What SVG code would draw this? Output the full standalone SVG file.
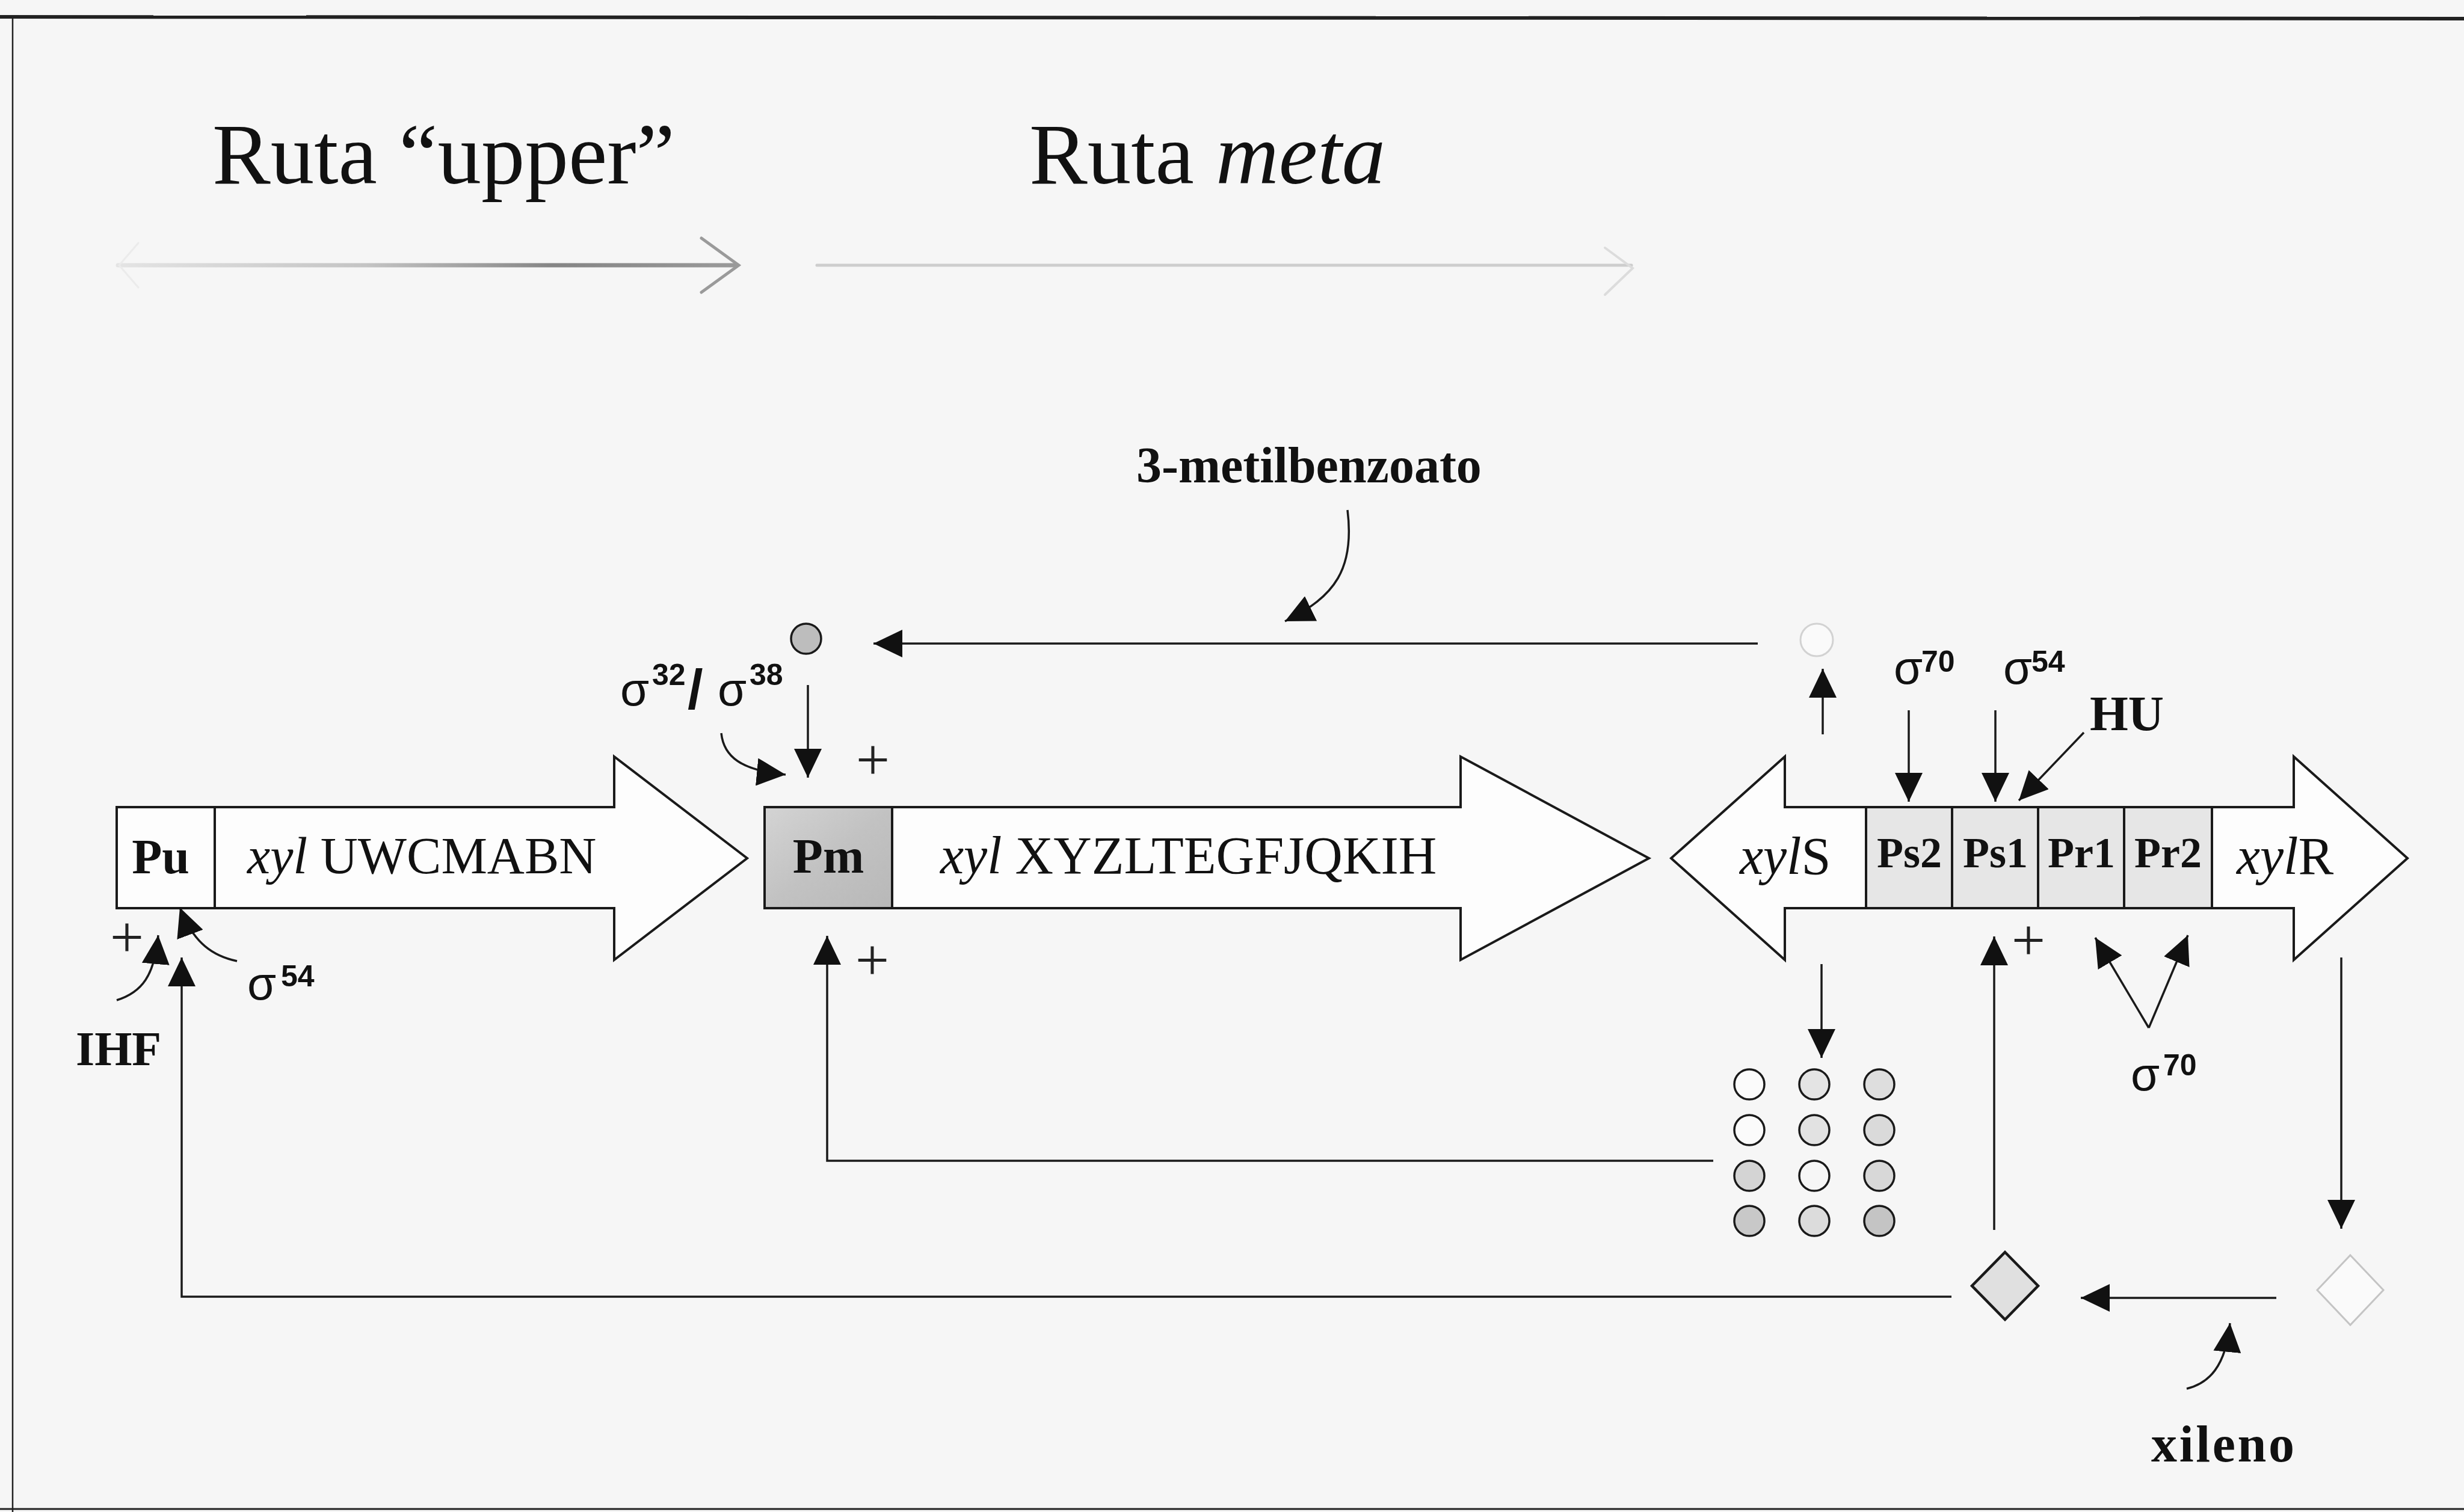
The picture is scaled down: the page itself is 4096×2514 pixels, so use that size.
<svg xmlns="http://www.w3.org/2000/svg" width="4096" height="2514" viewBox="0 0 4096 2514">
<defs>
<marker id="ah" markerUnits="userSpaceOnUse" markerWidth="48" markerHeight="46" viewBox="0 0 48 46" refX="48" refY="23" orient="auto"><path d="M0,0 L48,23 L0,46 Z" fill="#111"/></marker>
<linearGradient id="fade1" x1="196" y1="0" x2="1228" y2="0" gradientUnits="userSpaceOnUse"><stop offset="0" stop-color="#e4e4e4"/><stop offset="0.4" stop-color="#c4c4c4"/><stop offset="0.7" stop-color="#858585"/><stop offset="1" stop-color="#9a9a9a"/></linearGradient>
<linearGradient id="pmfill" x1="0" y1="0" x2="1" y2="1"><stop offset="0" stop-color="#d4d4d4"/><stop offset="0.5" stop-color="#c2c2c2"/><stop offset="1" stop-color="#b8b8b8"/></linearGradient>
</defs>
<style>
.ln{fill:none;stroke:#1a1a1a;stroke-width:3.5}
.arr{fill:none;stroke:#1a1a1a;stroke-width:3.5;marker-end:url(#ah)}
.gene{fill:#fdfdfd;stroke:#1a1a1a;stroke-width:4}
.prom{fill:#e6e6e6;stroke:#1a1a1a;stroke-width:4}
.serif{font-family:"Liberation Serif","Times New Roman",serif;fill:#111}
.b{font-weight:bold}
.sig{font-family:"Liberation Sans",Arial,sans-serif;fill:#111}
.plus{font-family:"Liberation Serif",serif;font-size:100px;fill:#222;text-anchor:middle}
.dot{stroke:#1a1a1a;stroke-width:3.5}
</style>
<rect x="0" y="0" width="4096" height="2514" fill="#f6f6f6"/>
<g id="frame" fill="none" stroke="#222">
<line x1="0" y1="28" x2="4096" y2="31" stroke-width="6"/>
<line x1="21" y1="28" x2="21" y2="2514" stroke-width="2.5"/>
<line x1="0" y1="2509" x2="4096" y2="2509" stroke-width="3"/>
</g>
<g id="titles">
<text class="serif" x="353" y="305" font-size="145">Ruta “upper”</text>
<text class="serif" x="1711" y="305" font-size="145">Ruta <tspan font-style="italic">meta</tspan></text>
</g>
<g id="pathway-arrows" fill="none" stroke-linecap="round">
<line x1="196" y1="441" x2="1222" y2="441" stroke="url(#fade1)" stroke-width="7"/>
<polyline points="1166,396 1228,441 1166,486" stroke="#9a9a9a" stroke-width="5"/>
<polyline points="230,404 198,441 230,478" stroke="#ebebeb" stroke-width="3"/>
<line x1="1358" y1="441" x2="2712" y2="441" stroke="#cdcdcd" stroke-width="5"/>
<polyline points="2668,412 2714,446 2668,490" stroke="#dcdcdc" stroke-width="4"/>
</g>
<g id="operon-upper">
<path class="gene" d="M194,1342 L1021,1342 L1021,1258 L1242,1427 L1021,1596 L1021,1510 L194,1510 Z"/>
<rect class="gene" x="194" y="1342" width="163" height="168" fill="#f0f0f0"/>
<text class="serif b" x="267" y="1452" font-size="82" text-anchor="middle">Pu</text>
<text class="serif" x="411" y="1452" font-size="86"><tspan font-style="italic">xyl</tspan> UWCMABN</text>
</g>
<g id="operon-meta">
<path class="gene" d="M1271,1342 L2428,1342 L2428,1258 L2741,1427 L2428,1596 L2428,1510 L1271,1510 Z"/>
<rect x="1271" y="1342" width="212" height="168" fill="url(#pmfill)" stroke="#1a1a1a" stroke-width="4"/>
<text class="serif b" x="1377" y="1451" font-size="82" text-anchor="middle">Pm</text>
<text class="serif" x="1563" y="1452" font-size="88"><tspan font-style="italic">xyl</tspan> XYZLTEGFJQKIH</text>
</g>
<g id="regulators">
<path class="gene" d="M2778,1427 L2967,1258 L2967,1342 L3813,1342 L3813,1258 L4002,1427 L3813,1596 L3813,1510 L2967,1510 L2967,1596 Z"/>
<rect class="prom" x="3102" y="1342" width="143" height="168"/>
<rect class="prom" x="3245" y="1342" width="143" height="168"/>
<rect class="prom" x="3388" y="1342" width="143" height="168"/>
<rect class="prom" x="3531" y="1342" width="146" height="168"/>
<text class="serif" x="2892" y="1453" font-size="88"><tspan font-style="italic">xyl</tspan>S</text>
<text class="serif b" x="3174" y="1442" font-size="72" text-anchor="middle">Ps2</text>
<text class="serif b" x="3317" y="1442" font-size="72" text-anchor="middle">Ps1</text>
<text class="serif b" x="3460" y="1442" font-size="72" text-anchor="middle">Pr1</text>
<text class="serif b" x="3604" y="1442" font-size="72" text-anchor="middle">Pr2</text>
<text class="serif" x="3718" y="1453" font-size="88"><tspan font-style="italic">xyl</tspan>R</text>
</g>
<g id="effector-3mb">
<circle class="dot" cx="1340" cy="1062" r="25" fill="#bdbdbd"/>
<circle cx="3020" cy="1064" r="27" fill="#fafafa" stroke="#d2d2d2" stroke-width="3"/>
<text class="serif b" x="1889" y="802" font-size="84">3-metilbenzoato</text>
</g>
<g id="xyls-pool">
<circle class="dot" cx="2908" cy="1803" r="25" fill="#fbfbfb"/>
<circle class="dot" cx="3016" cy="1803" r="25" fill="#e4e4e4"/>
<circle class="dot" cx="3124" cy="1803" r="25" fill="#dedede"/>
<circle class="dot" cx="2908" cy="1879" r="25" fill="#fbfbfb"/>
<circle class="dot" cx="3016" cy="1879" r="25" fill="#e2e2e2"/>
<circle class="dot" cx="3124" cy="1879" r="25" fill="#dadada"/>
<circle class="dot" cx="2908" cy="1955" r="25" fill="#d4d4d4"/>
<circle class="dot" cx="3016" cy="1955" r="25" fill="#f6f6f6"/>
<circle class="dot" cx="3124" cy="1955" r="25" fill="#d8d8d8"/>
<circle class="dot" cx="2908" cy="2030" r="25" fill="#c8c8c8"/>
<circle class="dot" cx="3016" cy="2030" r="25" fill="#dcdcdc"/>
<circle class="dot" cx="3124" cy="2030" r="25" fill="#c4c4c4"/>
</g>
<g id="xylr-effector">
<path d="M3333,2082 L3388,2138 L3333,2194 L3278,2138 Z" fill="#e0e0e0" stroke="#1a1a1a" stroke-width="4.5"/>
<path d="M3907,2087 L3962,2145 L3907,2203 L3852,2145 Z" fill="#fafafa" stroke="#c4c4c4" stroke-width="3"/>
<text class="serif b" x="3576" y="2430" font-size="86" textLength="238">xileno</text>
</g>
<g id="factors">
<text class="sig" x="1031" y="1173" font-size="78">σ<tspan x="1084" y="1139" font-size="50" font-weight="bold">32</tspan><tspan x="1143" y="1178" font-size="92" font-weight="bold">/</tspan><tspan x="1193" y="1173">σ</tspan><tspan x="1246" y="1139" font-size="50" font-weight="bold">38</tspan></text>
<text class="sig" x="411" y="1662" font-size="78">σ<tspan x="467" y="1640" font-size="50" font-weight="bold">54</tspan></text>
<text class="sig" x="3148" y="1137" font-size="78">σ<tspan x="3194" y="1117" font-size="50" font-weight="bold">70</tspan></text>
<text class="sig" x="3330" y="1137" font-size="78">σ<tspan x="3377" y="1117" font-size="50" font-weight="bold">54</tspan></text>
<text class="sig" x="3542" y="1813" font-size="78">σ<tspan x="3596" y="1788" font-size="50" font-weight="bold">70</tspan></text>
<text class="serif b" x="3474" y="1214" font-size="82">HU</text>
<text class="serif b" x="126" y="1771" font-size="80">IHF</text>
<text class="plus" x="211" y="1592">+</text>
<text class="plus" x="1451" y="1297">+</text>
<text class="plus" x="1450" y="1630">+</text>
<text class="plus" x="3372" y="1597">+</text>
</g>
<g id="connectors">
<path class="arr" d="M2922,1070 L1452,1070"/>
<path class="arr" d="M2240,848 C2252,945 2220,992 2136,1033"/>
<path class="arr" d="M1343,1139 L1343,1293"/>
<path class="arr" d="M1199,1219 C1203,1258 1232,1281 1306,1288"/>
<path class="arr" d="M3244,2156 L302,2156 L302,1592"/>
<path class="arr" d="M394,1598 C356,1590 322,1570 299,1509"/>
<path class="arr" d="M194,1663 C236,1650 257,1622 263,1555"/>
<path class="arr" d="M2848,1930 L1375,1930 L1375,1556"/>
<path class="arr" d="M3030,1221 L3030,1112"/>
<path class="arr" d="M3028,1603 L3028,1759"/>
<path class="arr" d="M3173,1181 L3173,1333"/>
<path class="arr" d="M3317,1181 L3317,1333"/>
<path class="arr" d="M3464,1218 L3356,1331"/>
<path class="arr" d="M3315,2045 L3315,1557"/>
<path class="arr" d="M3572,1709 L3483,1559"/>
<path class="arr" d="M3572,1709 L3637,1555"/>
<path class="arr" d="M3892,1592 L3892,2043"/>
<path class="arr" d="M3784,2158 L3459,2158"/>
<path class="arr" d="M3635,2309 C3672,2300 3700,2272 3707,2200"/>
</g>
</svg>
